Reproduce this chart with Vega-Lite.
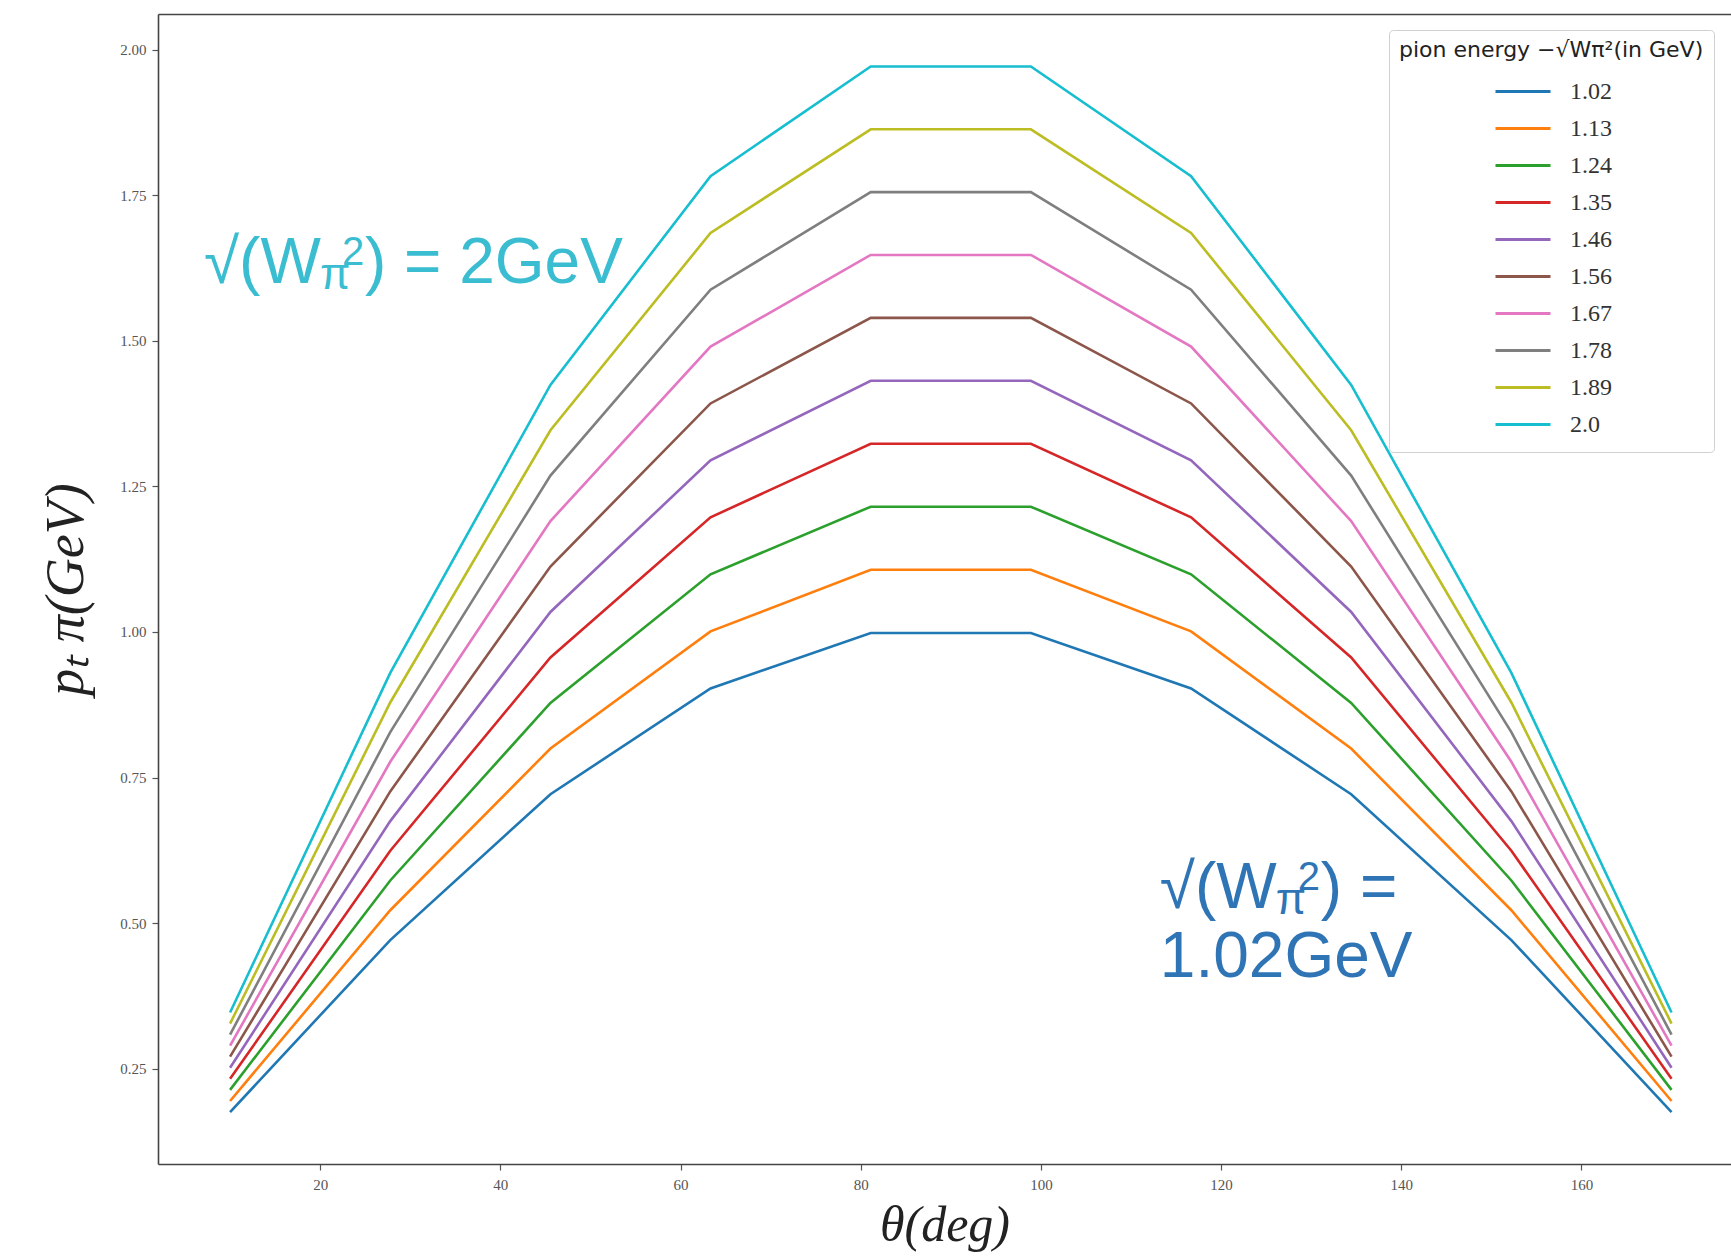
{
  "$schema": "https://vega.github.io/schema/vega-lite/v6.json",
  "background": "white",
  "autosize": {"type": "none"},
  "padding": {"left": 158, "top": 14, "right": 0, "bottom": 96},
  "width": 1573,
  "height": 1150,
  "config": {"view": {"stroke": null}},
  "datasets": {
    "curves": [
      {"E": "1.02", "t": 10, "p": 0.1755}, {"E": "1.02", "t": 27.78, "p": 0.4709}, {"E": "1.02", "t": 45.56, "p": 0.7214}, {"E": "1.02", "t": 63.33, "p": 0.9029}, {"E": "1.02", "t": 81.11, "p": 0.9983}, {"E": "1.02", "t": 98.89, "p": 0.9983}, {"E": "1.02", "t": 116.67, "p": 0.9029}, {"E": "1.02", "t": 134.44, "p": 0.7214}, {"E": "1.02", "t": 152.22, "p": 0.4709}, {"E": "1.02", "t": 170, "p": 0.1755},
      {"E": "1.13", "t": 10, "p": 0.1945}, {"E": "1.13", "t": 27.78, "p": 0.5221}, {"E": "1.13", "t": 45.56, "p": 0.7998}, {"E": "1.13", "t": 63.33, "p": 1.0011}, {"E": "1.13", "t": 81.11, "p": 1.1068}, {"E": "1.13", "t": 98.89, "p": 1.1068}, {"E": "1.13", "t": 116.67, "p": 1.0011}, {"E": "1.13", "t": 134.44, "p": 0.7998}, {"E": "1.13", "t": 152.22, "p": 0.5221}, {"E": "1.13", "t": 170, "p": 0.1945},
      {"E": "1.24", "t": 10, "p": 0.2136}, {"E": "1.24", "t": 27.78, "p": 0.5732}, {"E": "1.24", "t": 45.56, "p": 0.8781}, {"E": "1.24", "t": 63.33, "p": 1.0991}, {"E": "1.24", "t": 81.11, "p": 1.2151}, {"E": "1.24", "t": 98.89, "p": 1.2151}, {"E": "1.24", "t": 116.67, "p": 1.0991}, {"E": "1.24", "t": 134.44, "p": 0.8781}, {"E": "1.24", "t": 152.22, "p": 0.5732}, {"E": "1.24", "t": 170, "p": 0.2136},
      {"E": "1.35", "t": 10, "p": 0.2326}, {"E": "1.35", "t": 27.78, "p": 0.6242}, {"E": "1.35", "t": 45.56, "p": 0.9562}, {"E": "1.35", "t": 63.33, "p": 1.1969}, {"E": "1.35", "t": 81.11, "p": 1.3233}, {"E": "1.35", "t": 98.89, "p": 1.3233}, {"E": "1.35", "t": 116.67, "p": 1.1969}, {"E": "1.35", "t": 134.44, "p": 0.9562}, {"E": "1.35", "t": 152.22, "p": 0.6242}, {"E": "1.35", "t": 170, "p": 0.2326},
      {"E": "1.46", "t": 10, "p": 0.2516}, {"E": "1.46", "t": 27.78, "p": 0.6752}, {"E": "1.46", "t": 45.56, "p": 1.0344}, {"E": "1.46", "t": 63.33, "p": 1.2947}, {"E": "1.46", "t": 81.11, "p": 1.4314}, {"E": "1.46", "t": 98.89, "p": 1.4314}, {"E": "1.46", "t": 116.67, "p": 1.2947}, {"E": "1.46", "t": 134.44, "p": 1.0344}, {"E": "1.46", "t": 152.22, "p": 0.6752}, {"E": "1.46", "t": 170, "p": 0.2516},
      {"E": "1.56", "t": 10, "p": 0.2706}, {"E": "1.56", "t": 27.78, "p": 0.7262}, {"E": "1.56", "t": 45.56, "p": 1.1125}, {"E": "1.56", "t": 63.33, "p": 1.3925}, {"E": "1.56", "t": 81.11, "p": 1.5395}, {"E": "1.56", "t": 98.89, "p": 1.5395}, {"E": "1.56", "t": 116.67, "p": 1.3925}, {"E": "1.56", "t": 134.44, "p": 1.1125}, {"E": "1.56", "t": 152.22, "p": 0.7262}, {"E": "1.56", "t": 170, "p": 0.2706},
      {"E": "1.67", "t": 10, "p": 0.2896}, {"E": "1.67", "t": 27.78, "p": 0.7771}, {"E": "1.67", "t": 45.56, "p": 1.1905}, {"E": "1.67", "t": 63.33, "p": 1.4901}, {"E": "1.67", "t": 81.11, "p": 1.6475}, {"E": "1.67", "t": 98.89, "p": 1.6475}, {"E": "1.67", "t": 116.67, "p": 1.4901}, {"E": "1.67", "t": 134.44, "p": 1.1905}, {"E": "1.67", "t": 152.22, "p": 0.7771}, {"E": "1.67", "t": 170, "p": 0.2896},
      {"E": "1.78", "t": 10, "p": 0.3085}, {"E": "1.78", "t": 27.78, "p": 0.8280}, {"E": "1.78", "t": 45.56, "p": 1.2685}, {"E": "1.78", "t": 63.33, "p": 1.5878}, {"E": "1.78", "t": 81.11, "p": 1.7554}, {"E": "1.78", "t": 98.89, "p": 1.7554}, {"E": "1.78", "t": 116.67, "p": 1.5878}, {"E": "1.78", "t": 134.44, "p": 1.2685}, {"E": "1.78", "t": 152.22, "p": 0.8280}, {"E": "1.78", "t": 170, "p": 0.3085},
      {"E": "1.89", "t": 10, "p": 0.3275}, {"E": "1.89", "t": 27.78, "p": 0.8789}, {"E": "1.89", "t": 45.56, "p": 1.3464}, {"E": "1.89", "t": 63.33, "p": 1.6853}, {"E": "1.89", "t": 81.11, "p": 1.8633}, {"E": "1.89", "t": 98.89, "p": 1.8633}, {"E": "1.89", "t": 116.67, "p": 1.6853}, {"E": "1.89", "t": 134.44, "p": 1.3464}, {"E": "1.89", "t": 152.22, "p": 0.8789}, {"E": "1.89", "t": 170, "p": 0.3275},
      {"E": "2.0", "t": 10, "p": 0.3464}, {"E": "2.0", "t": 27.78, "p": 0.9298}, {"E": "2.0", "t": 45.56, "p": 1.4244}, {"E": "2.0", "t": 63.33, "p": 1.7829}, {"E": "2.0", "t": 81.11, "p": 1.9711}, {"E": "2.0", "t": 98.89, "p": 1.9711}, {"E": "2.0", "t": 116.67, "p": 1.7829}, {"E": "2.0", "t": 134.44, "p": 1.4244}, {"E": "2.0", "t": 152.22, "p": 0.9298}, {"E": "2.0", "t": 170, "p": 0.3464}
    ],
    "ann": [
      {"t": 7.1, "v": 1.599, "txt": "√(W", "part": "a", "col": "#3bbdd1"},
      {"t": 7.1, "v": 1.599, "txt": "π", "part": "s", "col": "#3bbdd1"},
      {"t": 7.1, "v": 1.599, "txt": "2", "part": "p", "col": "#3bbdd1"},
      {"t": 7.1, "v": 1.599, "txt": ") = 2GeV", "part": "b", "col": "#3bbdd1"},
      {"t": 113.2, "v": 0.526, "txt": "√(W", "part": "a", "col": "#2f75b6"},
      {"t": 113.2, "v": 0.526, "txt": "π", "part": "s", "col": "#2f75b6"},
      {"t": 113.2, "v": 0.526, "txt": "2", "part": "p", "col": "#2f75b6"},
      {"t": 113.2, "v": 0.526, "txt": ") =", "part": "b", "col": "#2f75b6"},
      {"t": 113.2, "v": 0.4075, "txt": "1.02GeV", "part": "a", "col": "#2f75b6"}
    ]
  },
  "resolve": {"axis": {"x": "independent", "y": "independent"}, "scale": {"color": "independent"}},
  "layer": [
    {
      "data": {"name": "curves"},
      "mark": {"type": "line", "strokeWidth": 2.6, "clip": true},
      "encoding": {
        "x": {"field": "t", "type": "quantitative",
          "scale": {"domain": [2, 176.6], "nice": false, "zero": false},
          "axis": {"orient": "bottom", "values": [20, 40, 60, 80, 100, 120, 140, 160], "grid": false,
            "labelFont": "Liberation Serif", "labelFontSize": 15, "labelColor": "#555", "labelPadding": 7,
            "tickColor": "#555", "tickSize": 6, "tickWidth": 1.2, "domainColor": "#444", "domainWidth": 1.6,
            "title": "θ(deg)", "titleFont": "Liberation Serif", "titleFontStyle": "italic", "titleFontWeight": "normal",
            "titleFontSize": 50, "titleColor": "#222", "titlePadding": 8}},
        "y": {"field": "p", "type": "quantitative",
          "scale": {"domain": [0.0863, 2.0613], "nice": false, "zero": false},
          "axis": {"orient": "left", "values": [0.25, 0.5, 0.75, 1.0, 1.25, 1.5, 1.75, 2.0], "format": ".2f", "grid": false,
            "labelFont": "Liberation Serif", "labelFontSize": 15, "labelColor": "#555", "labelPadding": 6,
            "tickColor": "#555", "tickSize": 6, "tickWidth": 1.2, "domainColor": "#444", "domainWidth": 1.6,
            "title": "pₜ π(GeV)", "titleFont": "Liberation Serif", "titleFontStyle": "italic", "titleFontWeight": "normal",
            "titleFontSize": 54, "titleColor": "#222", "titlePadding": 26}},
        "color": {"field": "E", "type": "nominal",
          "scale": {"range": ["#1f77b4", "#ff7f0e", "#2ca02c", "#d62728", "#9467bd", "#8c564b", "#e377c2", "#7f7f7f", "#bcbd22", "#17becf"]},
          "legend": {"orient": "none", "legendX": 1231, "legendY": 16,
            "title": "pion energy −√Wπ²(in GeV)", "titleFont": "DejaVu Sans", "titleFontSize": 22, "titleFontWeight": "normal",
            "titleColor": "#222", "titlePadding": 12, "titleLimit": 600,
            "labelFont": "Liberation Serif", "labelFontSize": 24, "labelColor": "#333", "labelOffset": 18,
            "symbolType": "stroke", "symbolSize": 3025, "symbolStrokeWidth": 3, "symbolOffset": 95,
            "clipHeight": 35, "rowPadding": 2, "padding": 10, "strokeColor": "#d0d0d0", "cornerRadius": 4, "fillColor": "white"}}
      }
    },
    {
      "data": {"name": "ann"},
      "transform": [{"filter": "datum.part == 'a'"}],
      "mark": {"type": "text", "font": "Liberation Sans", "fontSize": 64, "align": "left", "baseline": "alphabetic"},
      "encoding": {
        "x": {"field": "t", "type": "quantitative", "scale": {"domain": [2, 176.6], "nice": false, "zero": false},
          "axis": {"orient": "top", "labels": false, "ticks": false, "grid": false, "title": null, "domainColor": "#444", "domainWidth": 1.6}},
        "y": {"field": "v", "type": "quantitative", "scale": {"domain": [0.0863, 2.0613], "nice": false, "zero": false}, "axis": null},
        "text": {"field": "txt"},
        "color": {"field": "col", "type": "nominal", "scale": null, "legend": null}
      }
    },
    {
      "data": {"name": "ann"},
      "transform": [{"filter": "datum.part == 's'"}],
      "mark": {"type": "text", "font": "Liberation Sans", "fontSize": 44, "align": "left", "baseline": "alphabetic", "dx": 116, "dy": 6},
      "encoding": {
        "x": {"field": "t", "type": "quantitative", "scale": {"domain": [2, 176.6], "nice": false, "zero": false}, "axis": null},
        "y": {"field": "v", "type": "quantitative", "scale": {"domain": [0.0863, 2.0613], "nice": false, "zero": false}, "axis": null},
        "text": {"field": "txt"},
        "color": {"field": "col", "type": "nominal", "scale": null, "legend": null}
      }
    },
    {
      "data": {"name": "ann"},
      "transform": [{"filter": "datum.part == 'p'"}],
      "mark": {"type": "text", "font": "Liberation Sans", "fontSize": 40, "align": "left", "baseline": "alphabetic", "dx": 138, "dy": -18},
      "encoding": {
        "x": {"field": "t", "type": "quantitative", "scale": {"domain": [2, 176.6], "nice": false, "zero": false}, "axis": null},
        "y": {"field": "v", "type": "quantitative", "scale": {"domain": [0.0863, 2.0613], "nice": false, "zero": false}, "axis": null},
        "text": {"field": "txt"},
        "color": {"field": "col", "type": "nominal", "scale": null, "legend": null}
      }
    },
    {
      "data": {"name": "ann"},
      "transform": [{"filter": "datum.part == 'b'"}],
      "mark": {"type": "text", "font": "Liberation Sans", "fontSize": 64, "align": "left", "baseline": "alphabetic", "dx": 161},
      "encoding": {
        "x": {"field": "t", "type": "quantitative", "scale": {"domain": [2, 176.6], "nice": false, "zero": false}, "axis": null},
        "y": {"field": "v", "type": "quantitative", "scale": {"domain": [0.0863, 2.0613], "nice": false, "zero": false}, "axis": null},
        "text": {"field": "txt"},
        "color": {"field": "col", "type": "nominal", "scale": null, "legend": null}
      }
    }
  ]
}
